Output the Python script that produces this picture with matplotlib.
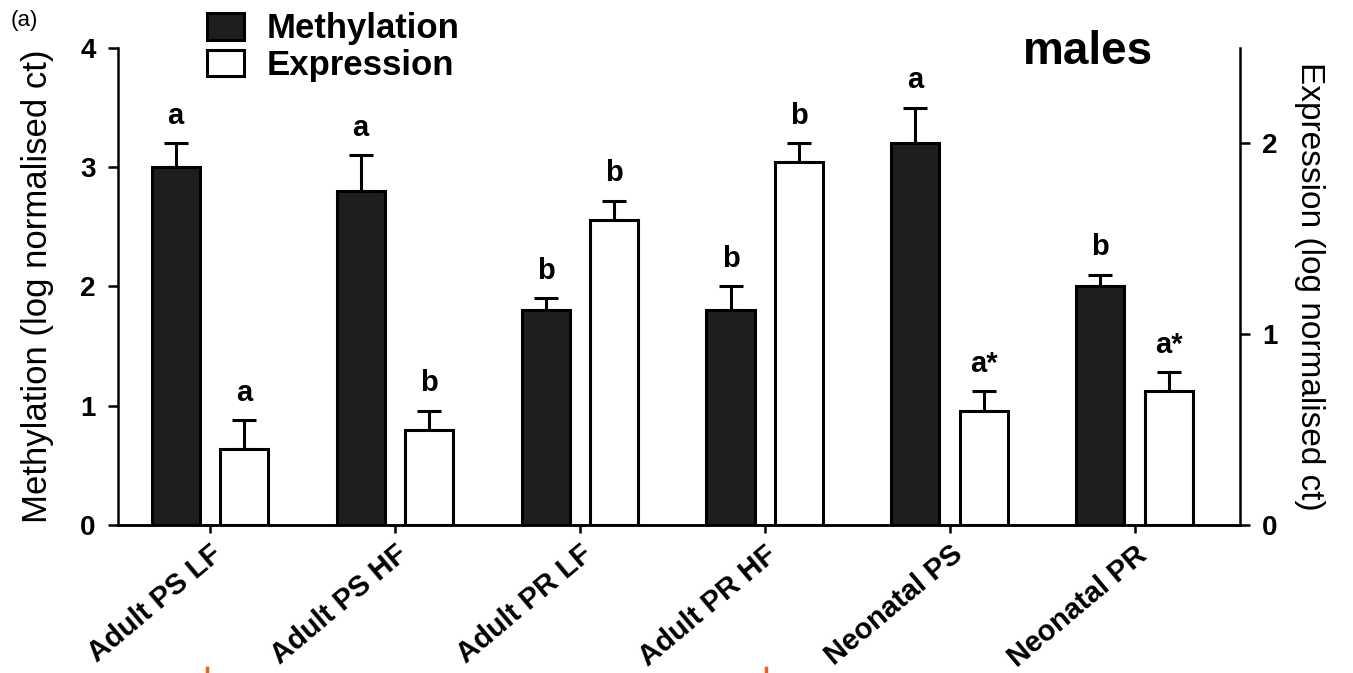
import numpy as np
import matplotlib.pyplot as plt
from matplotlib.patches import Patch
from matplotlib.lines import Line2D

plt.rcParams['font.family'] = ['Liberation Sans', 'DejaVu Sans']

# dados
grupos = ['Adult PS LF', 'Adult PS HF', 'Adult PR LF', 'Adult PR HF', 'Neonatal PS', 'Neonatal PR']
metilacao = [3.0, 2.8, 1.8, 1.8, 3.2, 2.0]
metilacao_erro = [0.2, 0.3, 0.1, 0.2, 0.3, 0.1]
expressao = [0.40, 0.50, 1.60, 1.90, 0.60, 0.70]
expressao_erro = [0.15, 0.10, 0.10, 0.10, 0.10, 0.10]
letras_met = ['a', 'a', 'b', 'b', 'a', 'b']
letras_exp = ['a', 'b', 'b', 'b', 'a*', 'a*']

fig = plt.figure(figsize=(13.53, 6.73), dpi=100)
ax = fig.add_axes([0.0872, 0.2199, 0.8293, 0.7088])
ax2 = ax.twinx()

x = np.arange(len(grupos))
larg = 0.26
desl = 0.185
lw = 2.2

ax.bar(x - desl, metilacao, larg, color='#1e1e1e', edgecolor='black', linewidth=lw, zorder=3)
ax.errorbar(x - desl, metilacao, yerr=[np.zeros(len(x)), metilacao_erro], fmt='none',
            ecolor='black', elinewidth=lw, capsize=8.5, capthick=lw, zorder=2)
ax2.bar(x + desl, expressao, larg, color='white', edgecolor='black', linewidth=lw, zorder=3)
ax2.errorbar(x + desl, expressao, yerr=[np.zeros(len(x)), expressao_erro], fmt='none',
             ecolor='black', elinewidth=lw, capsize=8.5, capthick=lw, zorder=2)

# letras de significancia
for i in range(len(x)):
    ax.annotate(letras_met[i], (x[i] - desl, metilacao[i] + metilacao_erro[i]),
                xytext=(0, 14), textcoords='offset points', ha='center', va='baseline',
                fontsize=21, fontweight='bold')
    ax2.annotate(letras_exp[i], (x[i] + desl, expressao[i] + expressao_erro[i]),
                 xytext=(0, 14), textcoords='offset points', ha='center', va='baseline',
                 fontsize=21, fontweight='bold')

ax.set_xlim(-0.497, 5.57)
ax.set_ylim(0, 4)
ax2.set_ylim(0, 2.5)
ax.set_yticks([0, 1, 2, 3, 4])
ax2.set_yticks([0, 1, 2])

ax.set_xticks(x)
ax.set_xticklabels(grupos, rotation=40, ha='right', rotation_mode='anchor',
                   fontsize=21, fontweight='bold')

for a in (ax, ax2):
    a.spines['top'].set_visible(False)
    for s in a.spines.values():
        s.set_linewidth(1.8)
    a.tick_params(width=1.8, length=7, direction='out')
ax.spines['right'].set_visible(False)
ax2.spines['left'].set_visible(False)
ax.tick_params(axis='y', labelsize=20, pad=9)
ax.tick_params(axis='x', length=6, pad=5)
ax2.tick_params(axis='y', labelsize=20, pad=9)
for t in ax.get_yticklabels() + ax2.get_yticklabels():
    t.set_fontweight('bold')

ax.set_ylabel('Methylation (log normalised ct)', fontsize=25, labelpad=19)
ax2.set_ylabel('Expression (log normalised ct)', fontsize=24, rotation=270, labelpad=34)

handles = [Patch(facecolor='#1e1e1e', edgecolor='black', linewidth=lw),
           Patch(facecolor='white', edgecolor='black', linewidth=lw)]
fig.legend(handles, ['Methylation', 'Expression'], loc='upper left',
           bbox_to_anchor=(0.130, 1.028), frameon=False, prop={'size': 25, 'weight': 'bold'},
           handlelength=1.07, handleheight=0.8, handletextpad=0.65, labelspacing=0.1)

fig.text(0.008, 0.985, '(a)', fontsize=16, va='top')
fig.text(0.756, 0.905, 'males', fontsize=33, fontweight='bold')

# marquinhas laranjas no rodape
for xm in (0.153, 0.566):
    fig.add_artist(Line2D([xm, xm], [0.0, 0.008], color='#e8601c', linewidth=2.5))

plt.savefig('out.png', dpi=100)
